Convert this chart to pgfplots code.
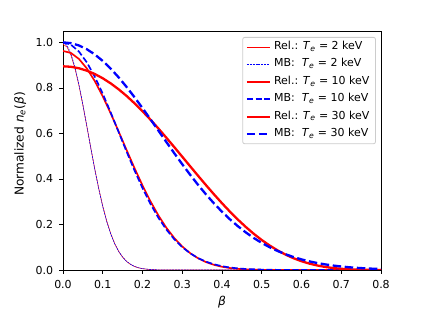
\documentclass[border=0pt]{standalone}
\usepackage{fontspec}
\setmainfont{DejaVu Sans}
\usepackage{pgfplots}
\pgfplotsset{compat=1.18}
\definecolor{mplred}{RGB}{255,0,0}
\definecolor{mplblue}{RGB}{0,0,255}
\begin{document}
\begin{tikzpicture}
\path[use as bounding box] (0,0) rectangle (423bp,318bp);
\begin{axis}[
  at={(63bp,48bp)}, anchor=south west,
  scale only axis, width=318bp, height=239bp,
  xmin=0, xmax=0.8, ymin=0, ymax=1.05,
  xtick={0,0.1,0.2,0.3,0.4,0.5,0.6,0.7,0.8},
  ytick={0,0.2,0.4,0.6,0.8,1.0},
  tick pos=left, tick align=outside,
  major tick length=3.9bp,
  every tick/.style={black, line width=0.8bp},
  axis line style={line width=0.8bp},
  tick label style={font=\fontsize{11bp}{13bp}\selectfont},
  xticklabel style={yshift=-2.5bp},
  yticklabel style={xshift=-2.5bp},
  /pgf/number format/.cd, fixed, fixed zerofill, precision=1, assume math mode=true, /pgfplots/.cd,
  xlabel={\textit{β}},
  xlabel style={at={(axis description cs:0.5,-0.135)}, anchor=center, font=\fontsize{12.2bp}{14bp}\selectfont},
  ylabel={Normalized \textit{n}\textsubscript{\textit{e}}(\textit{β})},
  ylabel style={at={(axis description cs:-0.105,0.527)}, anchor=south, font=\fontsize{12.2bp}{14bp}\selectfont},
  legend cell align=left,
  legend image code/.code={\draw[#1] (0bp,0bp) -- (23bp,0bp);},
  legend style={at={(0.984,0.975)}, anchor=north east, draw=black!20, rounded corners=2bp,
    line width=0.8bp, fill=white, font=\fontsize{11bp}{13bp}\selectfont,
    row sep=0pt, column sep=0pt, inner xsep=3bp, inner ysep=1bp,
    nodes={inner ysep=3.2bp, inner xsep=3bp, text height=8bp, text depth=3bp}},
]
% Rel. 2 keV
\addplot[mplred, line width=0.55bp] coordinates {
(0,0.9922)(0.01,0.9799)(0.02,0.9437)(0.03,0.8864)(0.04,0.8118)(0.05,0.7250)(0.06,0.6313)(0.07,0.5359)(0.08,0.4434)(0.09,0.3576)(0.10,0.2809)(0.11,0.2150)(0.12,0.1603)(0.13,0.1163)(0.14,0.0821)(0.15,0.0564)(0.16,0.0377)(0.17,0.0245)(0.18,0.0155)(0.19,0.0095)(0.20,0.0057)(0.22,0.0018)(0.24,0.0005)(0.26,0.0001)(0.30,0)(0.8,0)};
\addlegendentry{Rel.: \textit{T}\textsubscript{\textit{e}} = 2 keV}
% MB 2 keV
\addplot[mplblue, line width=0.55bp, dash pattern=on 2bp off 0.9bp] coordinates {
(0,1)(0.01,0.9873)(0.02,0.9502)(0.03,0.8914)(0.04,0.8151)(0.05,0.7266)(0.06,0.6313)(0.07,0.5347)(0.08,0.4415)(0.09,0.3553)(0.10,0.2787)(0.11,0.2131)(0.12,0.1589)(0.13,0.1154)(0.14,0.0818)(0.15,0.0565)(0.16,0.0380)(0.17,0.0249)(0.18,0.0159)(0.19,0.0099)(0.20,0.0060)(0.22,0.0021)(0.24,0.0006)(0.26,0.0002)(0.30,0)(0.8,0)};
\addlegendentry{MB:\ \ \textit{T}\textsubscript{\textit{e}} = 2 keV}
% Rel. 10 keV
\addplot[mplred, line width=1.65bp] coordinates {
(0,0.9623)(0.02,0.9535)(0.04,0.9274)(0.06,0.8855)(0.08,0.8298)(0.10,0.7629)(0.12,0.6880)(0.14,0.6083)(0.16,0.5271)(0.18,0.4473)(0.20,0.3716)(0.22,0.3020)(0.24,0.2397)(0.26,0.1857)(0.28,0.1403)(0.30,0.1033)(0.32,0.0739)(0.34,0.0514)(0.36,0.0346)(0.38,0.0225)(0.40,0.0142)(0.42,0.0086)(0.44,0.0050)(0.46,0.0028)(0.48,0.0015)(0.50,0.0007)(0.55,0.0002)(0.60,0)(0.8,0)};
\addlegendentry{Rel.: \textit{T}\textsubscript{\textit{e}} = 10 keV}
% MB 10 keV
\addplot[mplblue, line width=1.65bp, dash pattern=on 6.1bp off 2.6bp] coordinates {
(0,1)(0.02,0.9898)(0.04,0.9599)(0.06,0.9121)(0.08,0.8491)(0.10,0.7745)(0.12,0.6922)(0.14,0.6061)(0.16,0.5199)(0.18,0.4370)(0.20,0.3599)(0.22,0.2904)(0.24,0.2295)(0.26,0.1778)(0.28,0.1349)(0.30,0.1003)(0.32,0.0731)(0.34,0.0522)(0.36,0.0365)(0.38,0.0250)(0.40,0.0168)(0.42,0.0110)(0.44,0.0071)(0.46,0.0045)(0.50,0.0017)(0.55,0.0004)(0.60,0.0001)(0.8,0)};
\addlegendentry{MB:\ \ \textit{T}\textsubscript{\textit{e}} = 10 keV}
% Rel. 30 keV
\addplot[mplred, line width=2.3bp] coordinates {
(0,0.8949)(0.02,0.8928)(0.04,0.8863)(0.06,0.8757)(0.08,0.8610)(0.10,0.8423)(0.12,0.8198)(0.14,0.7938)(0.16,0.7646)(0.18,0.7323)(0.20,0.6975)(0.22,0.6606)(0.24,0.6216)(0.26,0.5812)(0.28,0.5397)(0.30,0.4977)(0.32,0.4555)(0.34,0.4136)(0.36,0.3723)(0.38,0.3321)(0.40,0.2933)(0.42,0.2563)(0.44,0.2214)(0.46,0.1889)(0.48,0.1589)(0.50,0.1317)(0.52,0.1075)(0.54,0.0860)(0.56,0.0675)(0.58,0.0517)(0.60,0.0386)(0.62,0.0280)(0.64,0.0197)(0.66,0.0133)(0.68,0.0086)(0.70,0.0053)(0.72,0.0030)(0.74,0.0016)(0.76,0.0008)(0.78,0.0004)(0.80,0.0001)};
\addlegendentry{Rel.: \textit{T}\textsubscript{\textit{e}} = 30 keV}
% MB 30 keV
\addplot[mplblue, line width=2.3bp, dash pattern=on 8.5bp off 3.6bp] coordinates {
(0,1)(0.02,0.9966)(0.04,0.9865)(0.06,0.9698)(0.08,0.9470)(0.10,0.9184)(0.12,0.8846)(0.14,0.8463)(0.16,0.8041)(0.18,0.7589)(0.20,0.7113)(0.22,0.6622)(0.24,0.6123)(0.26,0.5623)(0.28,0.5129)(0.30,0.4646)(0.32,0.4181)(0.34,0.3736)(0.36,0.3316)(0.38,0.2924)(0.40,0.2560)(0.42,0.2226)(0.44,0.1923)(0.46,0.1650)(0.48,0.1405)(0.50,0.1189)(0.52,0.0999)(0.54,0.0834)(0.56,0.0692)(0.58,0.0570)(0.60,0.0466)(0.62,0.0379)(0.64,0.0306)(0.66,0.0245)(0.68,0.0195)(0.70,0.0154)(0.72,0.0121)(0.74,0.0094)(0.76,0.0073)(0.78,0.0056)(0.80,0.0043)};
\addlegendentry{MB:\ \ \textit{T}\textsubscript{\textit{e}} = 30 keV}
\end{axis}
\end{tikzpicture}
\end{document}
